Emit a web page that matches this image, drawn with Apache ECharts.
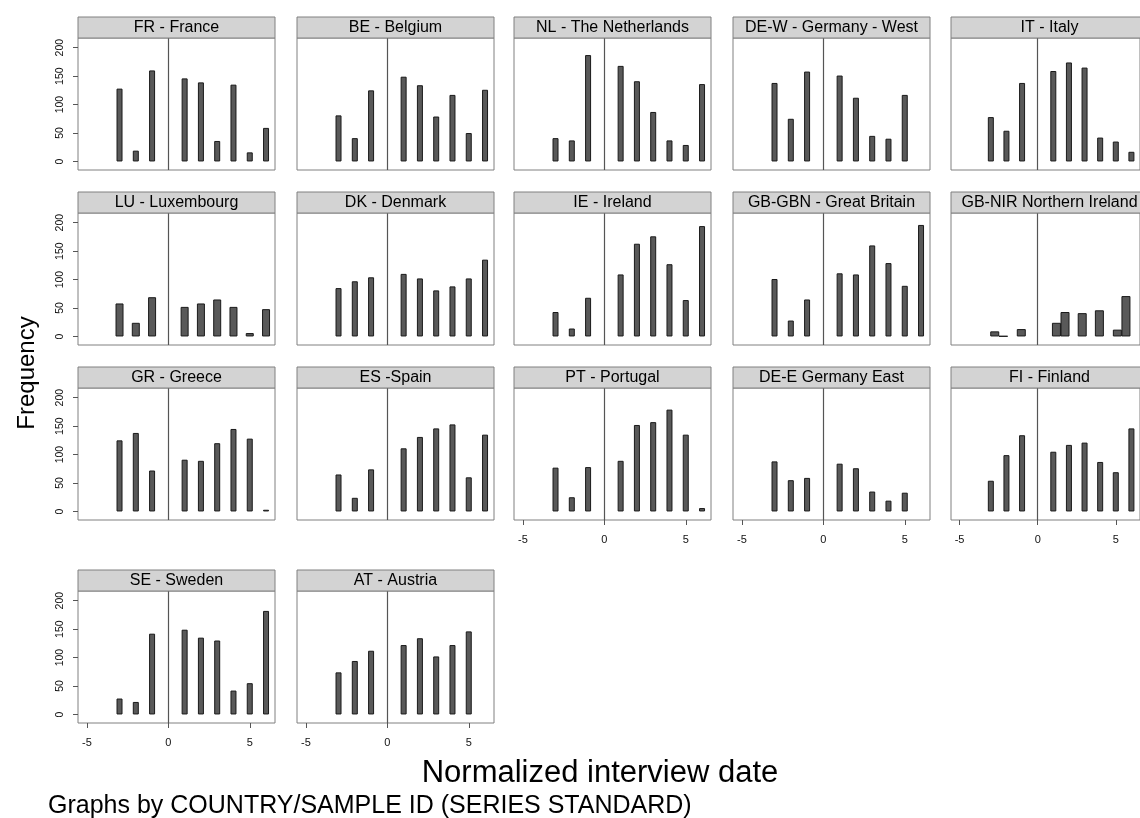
<!DOCTYPE html>
<html>
<head>
<meta charset="utf-8">
<script src="https://cdn.jsdelivr.net/npm/echarts@6/dist/echarts.min.js"></script>
<style>
html,body{margin:0;padding:0;background:#fff;}
#chart{width:1140px;height:818px;}
</style>
</head>
<body>
<div id="chart"></div>
<script>
// ---------- data ----------
const countries = [
  "FR - France", "BE - Belgium", "NL - The Netherlands", "DE-W - Germany - West", "IT - Italy",
  "LU - Luxembourg", "DK - Denmark", "IE - Ireland", "GB-GBN - Great Britain", "GB-NIR Northern Ireland",
  "GR - Greece", "ES -Spain", "PT - Portugal", "DE-E Germany East", "FI - Finland",
  "SE - Sweden", "AT - Austria"
];
const xStd = [-3, -2, -1, 1, 2, 3, 4, 5, 6];
const xShort = [-3, -2, -1, 1, 2, 3, 4, 5];
const xNIR = [-2.75, -2.2, -1.05, 1.2, 1.75, 2.85, 3.95, 5.1, 5.65];

const valFR  = [128, 19, 160, 146, 139, 36, 135, 16, 59];
const valBE  = [81, 41, 125, 149, 134, 79, 117, 50, 126];
const valNL  = [41, 37, 187, 168, 141, 87, 37, 29, 136];
const valDEW = [138, 75, 158, 151, 112, 45, 40, 117];
const valIT  = [78, 54, 138, 159, 174, 165, 42, 35, 17];
const valLU  = [58, 24, 69, 52, 58, 65, 52, 6, 48];
const valDK  = [85, 97, 104, 110, 102, 81, 88, 102, 135];
const valIE  = [43, 14, 68, 109, 163, 176, 127, 64, 194];
const valGBN = [101, 28, 65, 111, 109, 160, 129, 89, 196];
const valNIR = [9, 0.6, 13, 24, 43, 41, 46, 12, 71];
const valGR  = [125, 138, 72, 91, 89, 120, 145, 128, 3];
const valES  = [65, 24, 74, 111, 131, 146, 153, 60, 135];
const valPT  = [77, 25, 78, 89, 152, 157, 179, 135, 6];
const valDEE = [88, 55, 59, 84, 76, 35, 19, 33];
const valFI  = [54, 99, 134, 105, 117, 121, 87, 69, 146];
const valSE  = [28, 22, 142, 149, 135, 130, 42, 55, 182];
const valAT  = [74, 94, 112, 122, 134, 102, 122, 146];

const panelX = [xStd, xStd, xStd, xShort, xStd, xStd, xStd, xStd, xStd, xNIR,
                xStd, xStd, xStd, xShort, xStd, xStd, xShort];
const panelVals = [valFR, valBE, valNL, valDEW, valIT, valLU, valDK, valIE, valGBN, valNIR,
                   valGR, valES, valPT, valDEE, valFI, valSE, valAT];

const xTickLabels = [-5, 0, 5];
const yTickLabels = [0, 50, 100, 150, 200];

// ---------- layout / style ----------
const FONT = "'Liberation Sans', Arial, sans-serif";
const colLeft = [78, 297, 514, 733, 951];
const rowTop = [38, 213, 388, 591];
const PW = 197, PH = 132, HH = 21;
const barW = [6, 6, 6, 6, 6, 8, 6, 6, 6, 9, 6, 6, 6, 6, 6, 6, 6];

const grids = [], xAxes = [], yAxes = [], series = [], graphics = [];
const N = countries.length;
for (let i = 0; i < N; i++) {
  const r = Math.floor(i / 5), c = i % 5;
  const left = colLeft[c], top = rowTop[r];
  const showX = (i + 5 >= N);
  const showY = (c === 0);
  grids.push({
    left: left, top: top, width: PW, height: PH,
    show: true, borderColor: '#808080', borderWidth: 1, backgroundColor: '#fff',
    containLabel: false
  });
  xAxes.push({
    type: 'value', gridIndex: i, min: -5.55, max: 6.55, position: 'bottom',
    axisLine: { show: false, onZero: false },
    splitLine: { show: false },
    axisTick: { show: showX, customValues: xTickLabels, length: 5, inside: false, lineStyle: { color: '#555' } },
    axisLabel: { show: showX, customValues: xTickLabels, margin: 14, fontSize: 11, color: '#111', fontFamily: FONT }
  });
  yAxes.push({
    type: 'value', gridIndex: i, min: -15, max: 217, position: 'left',
    axisLine: { show: false, onZero: false },
    splitLine: { show: false },
    axisTick: { show: showY, customValues: yTickLabels, length: 5, inside: false, lineStyle: { color: '#555' } },
    axisLabel: { show: showY, customValues: yTickLabels, rotate: 90, margin: 12, fontSize: 10.5, color: '#111', fontFamily: FONT }
  });
  const data = panelX[i].map((x, k) => [x, panelVals[i][k]]);
  series.push({
    type: 'bar', xAxisIndex: i, yAxisIndex: i, data: data,
    barWidth: barW[i],
    itemStyle: { color: '#595959', borderColor: '#1a1a1a', borderWidth: 1 },
    silent: true,
    markLine: {
      silent: true, symbol: ['none', 'none'], label: { show: false },
      lineStyle: { color: '#555', width: 1.2, type: 'solid' },
      data: [{ xAxis: 0 }]
    }
  });
  graphics.push({
    type: 'rect', shape: { x: left, y: top - HH, width: PW, height: HH },
    style: { fill: '#d3d3d3', stroke: '#808080', lineWidth: 1 }, z: 10
  });
  graphics.push({
    type: 'text', x: left + PW / 2, y: top - HH / 2 + 0.5, z: 11,
    style: { text: countries[i], fill: '#000', font: '16px ' + FONT, textAlign: 'center', textVerticalAlign: 'middle' }
  });
}
graphics.push({
  type: 'text', x: 27, y: 373, rotation: Math.PI / 2,
  style: { text: 'Frequency', fill: '#000', font: '24px ' + FONT, textAlign: 'center', textVerticalAlign: 'middle' }
});
graphics.push({
  type: 'text', x: 600, y: 773,
  style: { text: 'Normalized interview date', fill: '#000', font: '31px ' + FONT, textAlign: 'center', textVerticalAlign: 'middle' }
});
graphics.push({
  type: 'text', x: 48, y: 806,
  style: { text: 'Graphs by COUNTRY/SAMPLE ID (SERIES STANDARD)', fill: '#000', font: '25px ' + FONT, textAlign: 'left', textVerticalAlign: 'middle' }
});

const chart = echarts.init(document.getElementById('chart'), null, { renderer: 'canvas' });
chart.setOption({
  backgroundColor: '#fff',
  animation: false,
  grid: grids,
  xAxis: xAxes,
  yAxis: yAxes,
  series: series,
  graphic: graphics
});
</script>
</body>
</html>
